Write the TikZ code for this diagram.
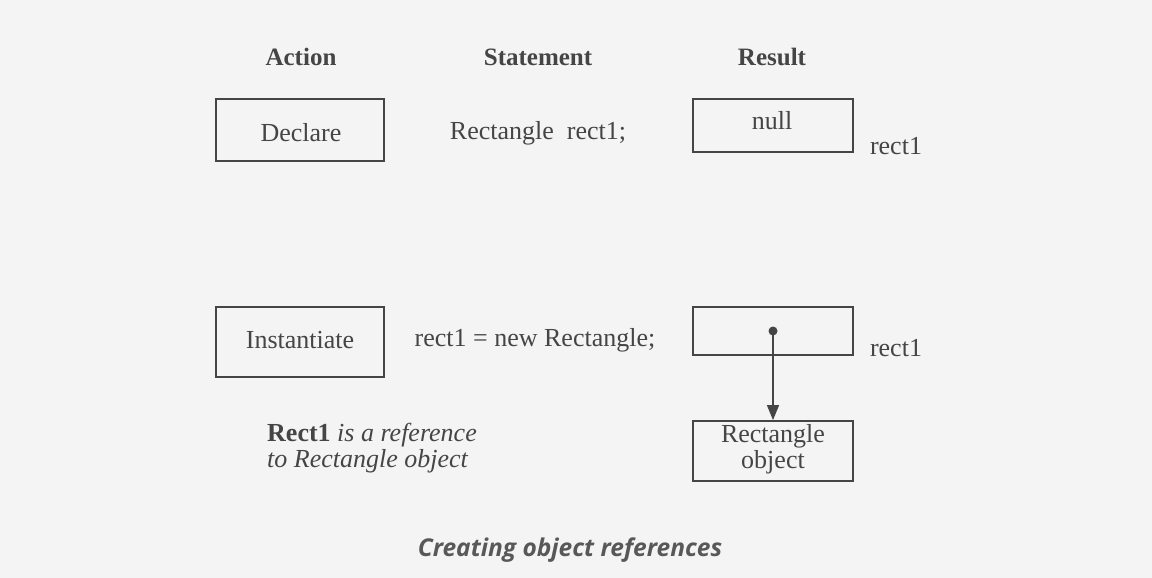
\documentclass[tikz,border=0pt]{standalone}
\usepackage{fontspec}
\setmainfont{Liberation Serif}
\newfontfamily\capfont{Open Sans}
\usetikzlibrary{arrows.meta}
\definecolor{ink}{HTML}{454545}
\definecolor{paper}{HTML}{F4F4F4}
\tikzset{
  box/.style={draw=ink, line width=1.8pt, minimum width=160pt, minimum height=50pt, inner sep=0pt},
  actbox/.style={box, minimum width=168pt},
  lbl/.style={text=ink, font=\fontsize{26}{30}\selectfont, inner sep=0pt},
  head/.style={text=ink, font=\fontsize{25}{30}\selectfont\bfseries, inner sep=0pt},
}
\begin{document}
\begin{tikzpicture}[x=1pt,y=-1pt]
\fill[paper] (0,0) rectangle (1152,578);
\useasboundingbox (0,0) rectangle (1152,578);
% headers
\node[head] (hact) at (301,57) {Action};
\node[head] (hstat) at (538,57) {Statement};
\node[head] (hres) at (772,57) {Result};
% row 1
\node[actbox, minimum height=62pt] (declare) at (300,130) {};
\node[lbl] (declaretxt) at (301,133) {Declare};
\node[lbl] (stmt1) at (538,133) {Rectangle\ \ rect1;};
\node[box, minimum height=53pt] (nullbox) at (773,125.5) {};
\node[lbl] (nulltxt) at (772,121) {null};
\node[lbl] (r1a) at (896,146) {rect1};
% row 2
\node[actbox, minimum height=70pt] (inst) at (300,342) {};
\node[lbl] (insttxt) at (300,340) {Instantiate};
\node[lbl] (stmt2) at (535,340) {rect1 = new Rectangle;};
\node[box, minimum height=48pt] (refbox) at (773,331) {};
\coordinate (dot) at (773,331);
\fill[ink] (dot) circle (4.5pt);
\node[lbl] (r1b) at (896,348) {rect1};
\node[box, minimum height=60pt] (objbox) at (773,451) {};
\node[lbl, align=center, font=\fontsize{26}{26}\selectfont] (objtxt) at (773,449) {Rectangle\\object};
\draw[ink, line width=1.3pt, -{Triangle[length=15pt,width=12pt]}] (dot) -- (dot |- objbox.north);
% note
\node[lbl, align=left, anchor=west, font=\fontsize{26}{26}\selectfont] (note) at (267,448) {\textbf{Rect1} \textit{is a reference}\\\textit{to Rectangle object}};
% caption
\node[text=ink!90, font=\capfont\fontsize{24.5}{28}\selectfont\itshape\bfseries, inner sep=0pt] (caption) at (570,550) {Creating object references};
\end{tikzpicture}
\end{document}
